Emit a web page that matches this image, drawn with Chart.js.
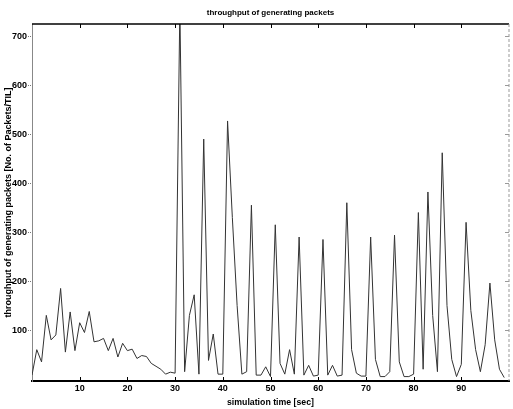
<!DOCTYPE html>
<html>
<head>
<meta charset="utf-8">
<script src="https://cdn.jsdelivr.net/npm/chart.js@4"></script>
<style>
  html, body { margin: 0; padding: 0; background: #fff; }
</style>
</head>
<body>
<canvas id="chart" width="513" height="409"></canvas>
<script>
// simulation time [sec]
const times = [
  0, 1, 2, 3, 4, 5, 6, 7, 8, 9, 10, 11, 12, 13, 14, 15, 16, 17, 18, 19,
  20, 21, 22, 23, 24, 25, 26, 27, 28, 29, 30, 31, 32, 33, 34, 35, 36, 37, 38, 39,
  40, 41, 42, 43, 44, 45, 46, 47, 48, 49, 50, 51, 52, 53, 54, 55, 56, 57, 58, 59,
  60, 61, 62, 63, 64, 65, 66, 67, 68, 69, 70, 71, 72, 73, 74, 75, 76, 77, 78, 79,
  80, 81, 82, 83, 84, 85, 86, 87, 88, 89, 90, 91, 92, 93, 94, 95, 96, 97, 98, 99,
];
// throughput of generating packets (No. of Packets/TIL)
const packets = [
  8, 60, 35, 130, 80, 90, 185, 55, 137, 58, 115, 95, 138, 76, 78, 83, 58, 83, 45, 73,
  58, 61, 42, 48, 46, 32, 26, 20, 10, 14, 12, 760, 15, 130, 172, 10, 490, 38, 92, 10,
  10, 527, 330, 150, 10, 15, 355, 8, 8, 25, 5, 315, 32, 10, 60, 10, 290, 8, 28, 6,
  8, 285, 8, 28, 6, 8, 360, 60, 12, 6, 6, 290, 40, 5, 5, 15, 294, 35, 5, 5,
  10, 340, 20, 382, 130, 15, 462, 150, 40, 5, 30, 320, 140, 60, 15, 70, 196, 80, 20, 3,
];
const xTicks = [10, 20, 30, 40, 50, 60, 70, 80, 90];
const yTicks = [100, 200, 300, 400, 500, 600, 700];

// 上側と右側の枠線、内向きの目盛り
const framePlugin = {
  id: "frame",
  afterDraw(chart) {
    const { ctx, chartArea: a, scales } = chart;
    ctx.save();
    ctx.strokeStyle = "#000";
    ctx.lineWidth = 1.5;
    ctx.beginPath();
    ctx.moveTo(a.left, a.top);
    ctx.lineTo(a.right, a.top);
    ctx.stroke();
    ctx.lineWidth = 1;
    ctx.beginPath();
    xTicks.forEach((v) => {
      const px = Math.round(scales.x.getPixelForValue(v)) + 0.5;
      ctx.moveTo(px, a.top);
      ctx.lineTo(px, a.top + 4);
      ctx.moveTo(px, a.bottom);
      ctx.lineTo(px, a.bottom - 4);
    });
    ctx.stroke();
    ctx.strokeStyle = "#999";
    ctx.beginPath();
    yTicks.forEach((v) => {
      const py = Math.round(scales.y.getPixelForValue(v)) + 0.5;
      ctx.moveTo(a.right, py);
      ctx.lineTo(a.right - 4, py);
    });
    ctx.stroke();
    ctx.setLineDash([3, 2]);
    ctx.beginPath();
    ctx.moveTo(a.right, a.top);
    ctx.lineTo(a.right, a.bottom);
    ctx.stroke();
    ctx.restore();
  },
};

const ctx = document.getElementById("chart").getContext("2d");
const myChart = new Chart(ctx, {
  type: "line",
  data: {
    datasets: [
      {
        data: times.map((t, i) => ({ x: t, y: packets[i] })),
        borderColor: "#333333",
        borderWidth: 1,
        tension: 0,
        pointRadius: 0,
        fill: false,
      },
    ],
  },
  options: {
    responsive: false,
    animation: false,
    devicePixelRatio: 1,
    layout: {
      padding: { left: 0, right: 4, top: 0, bottom: 0 },
    },
    plugins: {
      legend: { display: false },
      tooltip: { enabled: false },
      title: {
        display: true,
        text: "throughput of generating packets",
        fullSize: false,
        color: "#000",
        font: { family: "Liberation Sans", size: 8, weight: "bold" },
        padding: { top: 7.5, bottom: 6.9 },
      },
    },
    scales: {
      x: {
        type: "linear",
        min: 0,
        max: 100,
        afterFit: (s) => {
          s.height = 28;
        },
        afterBuildTicks: (s) => {
          s.ticks = xTicks.map((v) => ({ value: v }));
        },
        grid: { display: false, drawTicks: false },
        border: { display: true, color: "#000", width: 2 },
        ticks: {
          color: "#000",
          padding: 2.6,
          maxRotation: 0,
          font: { family: "Liberation Sans", size: 9, weight: "bold" },
        },
        title: {
          display: true,
          text: "simulation time [sec]",
          color: "#000",
          font: { family: "Liberation Sans", size: 8.75, weight: "bold" },
          padding: { top: 0, bottom: 0.75 },
        },
      },
      y: {
        min: -4,
        max: 725,
        afterFit: (s) => {
          s.width = 32;
        },
        afterBuildTicks: (s) => {
          s.ticks = yTicks.map((v) => ({ value: v }));
        },
        grid: {
          display: true,
          drawOnChartArea: false,
          drawTicks: true,
          tickLength: 4,
          tickColor: "#777",
          tickBorderDash: [1, 1],
        },
        border: { display: true, color: "#888", width: 1, dash: [3, 2] },
        ticks: {
          color: "#000",
          padding: 1,
          font: { family: "Liberation Sans", size: 9, weight: "bold" },
        },
        title: {
          display: true,
          text: "throughput of generating packets [No. of Packets/TIL]",
          color: "#000",
          font: { family: "Liberation Sans", size: 9, weight: "bold" },
          padding: { top: 3.6, bottom: 0 },
        },
      },
    },
  },
  plugins: [framePlugin],
});
</script>
</body>
</html>
